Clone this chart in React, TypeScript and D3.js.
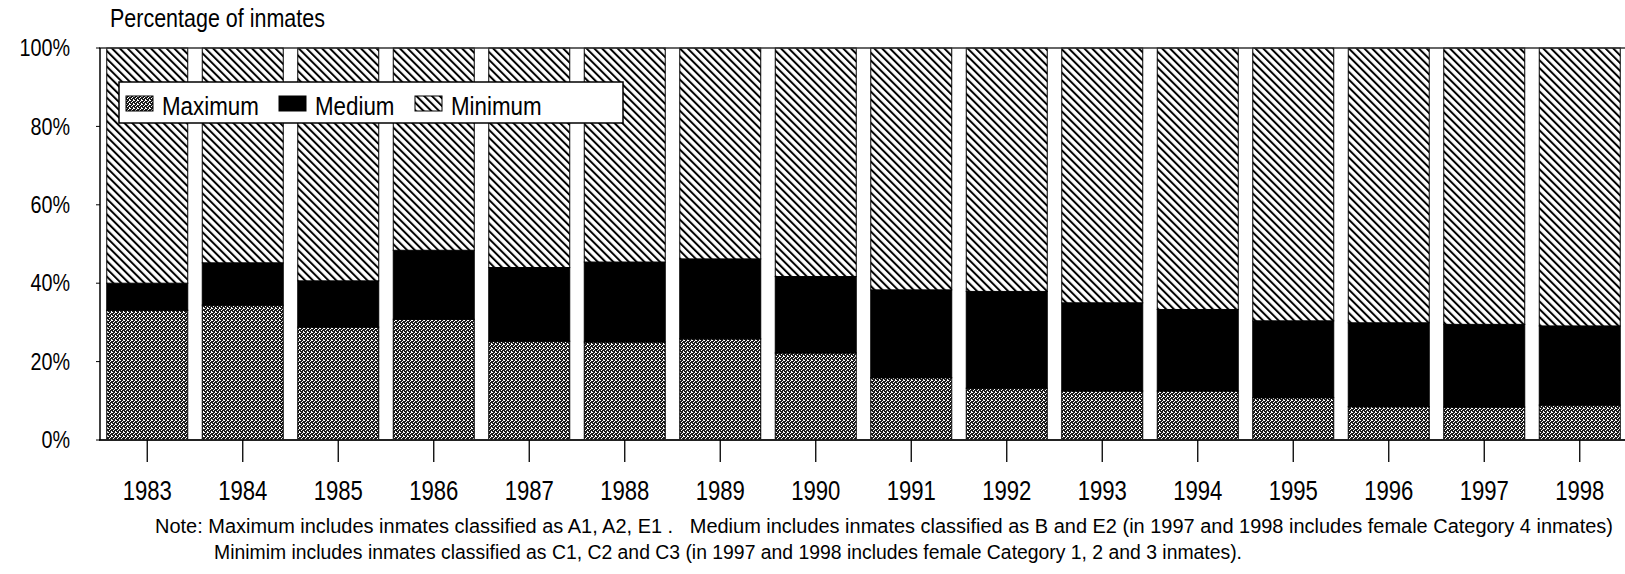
import React, { useEffect, useRef } from "react";
import * as d3 from "d3";

// values (percent of inmates)
const years = ["1983", "1984", "1985", "1986", "1987", "1988", "1989", "1990", "1991", "1992", "1993", "1994", "1995", "1996", "1997", "1998"];
const maximum = [33.1, 34.4, 28.8, 30.8, 25.2, 25.0, 25.8, 22.2, 15.9, 13.2, 12.5, 12.5, 10.8, 8.5, 8.4, 8.9];
const medium = [6.9, 10.8, 11.8, 17.6, 18.8, 20.4, 20.4, 19.5, 22.4, 24.7, 22.5, 20.8, 19.6, 21.4, 21.1, 20.2];
const minimum = [60.0, 54.8, 59.4, 51.6, 56.0, 54.6, 53.8, 58.3, 61.7, 62.1, 65.0, 66.7, 69.6, 70.1, 70.5, 70.9];
const seriesNames = ["Maximum", "Medium", "Minimum"];
const yTicks = [0, 20, 40, 60, 80, 100];

const noteLines = [
  "Note: Maximum includes inmates classified as A1, A2, E1 .   Medium includes inmates classified as B and E2 (in 1997 and 1998 includes female Category 4 inmates)",
  "Minimim includes inmates classified as C1, C2 and C3 (in 1997 and 1998 includes female Category 1, 2 and 3 inmates).",
];

const FONT = "'Liberation Sans', Arial, sans-serif";
// the scan uses a condensed Helvetica, squeeze the glyphs a bit
const NARROW = 0.86;

const App = () => {
  const chartRef = useRef<HTMLDivElement>(null);

  useEffect(() => {
    const element = chartRef.current;
    if (!element) return;
    const width = 1625;
    const height = 574;

    d3.select(element).select("svg").remove();
    const svg = d3
      .select(element)
      .append("svg")
      .attr("width", width)
      .attr("height", height)
      .style("display", "block")
      .style("background", "#fff")
      .style("font-family", FONT);

    const defs = svg.append("defs");

    // stipple for "Maximum"
    const dots = defs
      .append("pattern")
      .attr("id", "stipple")
      .attr("patternUnits", "userSpaceOnUse")
      .attr("width", 4)
      .attr("height", 4);
    dots.append("rect").attr("width", 4).attr("height", 4).attr("fill", "#1c1c1c");
    [[0, 0], [2, 1], [1, 2], [3, 3], [3, 0]].forEach(([px, py]) => {
      dots.append("rect").attr("x", px).attr("y", py).attr("width", 1).attr("height", 1).attr("fill", "#fff");
    });

    // "\\\" hatch for "Minimum"
    const hatch = defs
      .append("pattern")
      .attr("id", "hatch")
      .attr("patternUnits", "userSpaceOnUse")
      .attr("width", 5.5)
      .attr("height", 10)
      .attr("patternTransform", "rotate(-45)");
    hatch.append("rect").attr("width", 5.5).attr("height", 10).attr("fill", "#fff");
    hatch.append("rect").attr("width", 2).attr("height", 10).attr("fill", "#000");

    const fills = ["url(#stipple)", "#000", "url(#hatch)"];

    const x = d3.scaleBand().domain(years).range([99.5, 1627.5]).paddingInner(0.152).paddingOuter(0.076);
    const y = d3.scaleLinear().domain([0, 100]).range([440, 48]);

    const table = years.map((yr, i) => ({
      year: yr,
      Maximum: maximum[i],
      Medium: medium[i],
      Minimum: minimum[i],
    }));
    const stacked = d3.stack<any>().keys(seriesNames)(table);

    // bars
    svg
      .append("g")
      .attr("class", "bars")
      .selectAll("g")
      .data(stacked)
      .enter()
      .append("g")
      .attr("fill", (d, i) => fills[i])
      .selectAll("rect")
      .data((d) => d)
      .enter()
      .append("rect")
      .attr("x", (d: any) => x(d.data.year) as number)
      .attr("y", (d) => y(d[1]))
      .attr("width", x.bandwidth())
      .attr("height", (d) => y(d[0]) - y(d[1]))
      .attr("stroke", "#000")
      .attr("stroke-width", 1);

    // frame lines at 0% and 100%
    svg.append("line").attr("x1", 99).attr("x2", width).attr("y1", y(100)).attr("y2", y(100)).attr("stroke", "#333").attr("stroke-width", 1.5);
    svg.append("line").attr("x1", 99).attr("x2", width).attr("y1", y(0)).attr("y2", y(0)).attr("stroke", "#222").attr("stroke-width", 2);

    // y axis
    const yAxis = svg.append("g").attr("transform", "translate(100,0)");
    yAxis.append("line").attr("x1", 0).attr("x2", 0).attr("y1", y(100)).attr("y2", y(0)).attr("stroke", "#000").attr("stroke-width", 1.5);
    yAxis
      .selectAll(".ytick")
      .data(yTicks)
      .enter()
      .append("line")
      .attr("x1", -4)
      .attr("x2", 0)
      .attr("y1", (d) => y(d))
      .attr("y2", (d) => y(d))
      .attr("stroke", "#000");
    svg
      .append("g")
      .selectAll("text")
      .data(yTicks)
      .enter()
      .append("text")
      .attr("transform", (d) => `translate(70,${y(d)}) scale(${NARROW},1)`)
      .attr("dy", "0.36em")
      .attr("text-anchor", "end")
      .style("font-size", "23px")
      .text((d) => d + "%");

    // x ticks + year labels
    const xAxis = svg.append("g");
    xAxis
      .selectAll("line")
      .data(years)
      .enter()
      .append("line")
      .attr("x1", (d) => (x(d) as number) + x.bandwidth() / 2)
      .attr("x2", (d) => (x(d) as number) + x.bandwidth() / 2)
      .attr("y1", y(0))
      .attr("y2", y(0) + 22)
      .attr("stroke", "#000")
      .attr("stroke-width", 1.3);
    xAxis
      .selectAll("text")
      .data(years)
      .enter()
      .append("text")
      .attr("transform", (d) => `translate(${(x(d) as number) + x.bandwidth() / 2},500) scale(0.82,1)`)
      .attr("text-anchor", "middle")
      .style("font-size", "27px")
      .text((d) => d);

    // title
    svg
      .append("text")
      .attr("transform", `translate(110,27) scale(${NARROW},1)`)
      .style("font-size", "25px")
      .text("Percentage of inmates");

    // legend
    const legend = svg.append("g");
    legend
      .append("rect")
      .attr("x", 119)
      .attr("y", 82)
      .attr("width", 504)
      .attr("height", 41)
      .attr("fill", "#fff")
      .attr("stroke", "#000")
      .attr("stroke-width", 1.5);
    const legendX = [126, 279, 415];
    const entries = legend
      .selectAll(".legend-entry")
      .data(seriesNames)
      .enter()
      .append("g")
      .attr("class", "legend-entry")
      .attr("transform", (d, i) => `translate(${legendX[i]}, 96)`);
    entries
      .append("rect")
      .attr("width", 27)
      .attr("height", 15)
      .attr("fill", (d, i) => fills[i])
      .attr("stroke", "#000")
      .attr("stroke-width", 1);
    entries
      .append("text")
      .attr("transform", `translate(36,19) scale(${NARROW},1)`)
      .style("font-size", "26px")
      .text((d) => d);

    // note
    const noteX = [155, 214];
    const noteY = [533, 559];
    const noteLen = [1458, 1028];
    svg
      .append("g")
      .selectAll("text")
      .data(noteLines)
      .enter()
      .append("text")
      .attr("x", (d, i) => noteX[i])
      .attr("y", (d, i) => noteY[i])
      .attr("textLength", (d, i) => noteLen[i])
      .attr("lengthAdjust", "spacingAndGlyphs")
      .style("font-size", "19.5px")
      .style("white-space", "pre")
      .text((d) => d);
  }, []);

  return (
    <div style={{ position: "absolute", left: 0, top: 0 }}>
      <div ref={chartRef}></div>
    </div>
  );
};

export default App;
